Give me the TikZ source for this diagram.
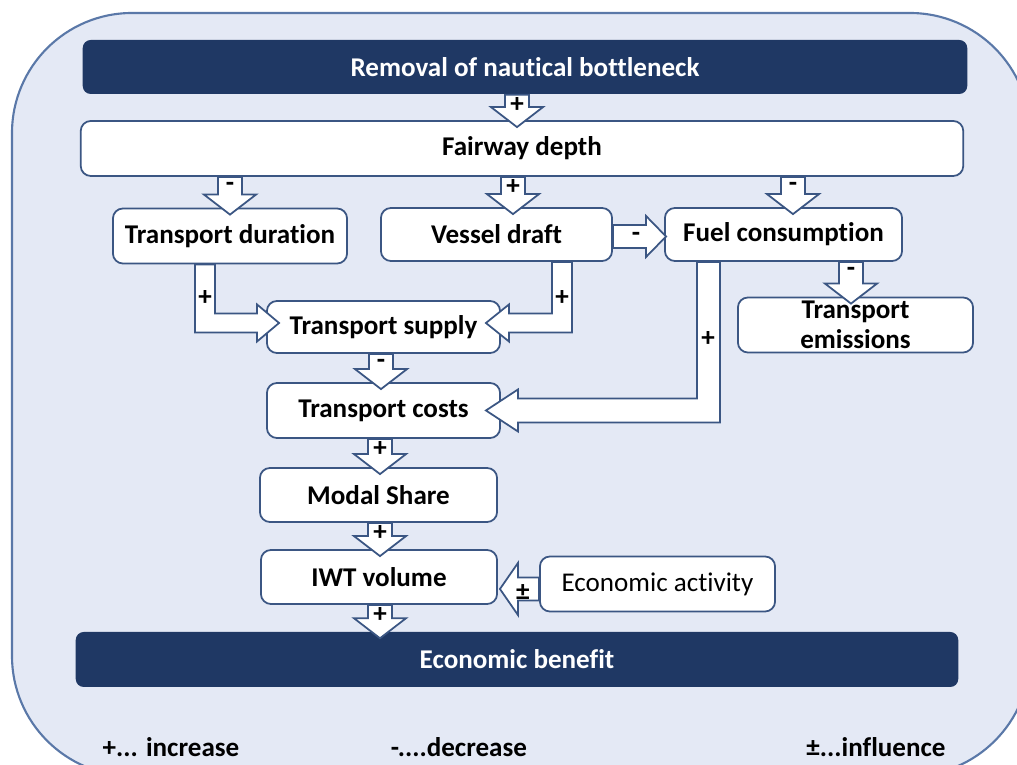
\documentclass[tikz,border=0pt]{standalone}
\usepackage{fontspec}
\setmainfont{Carlito}[Ligatures={NoCommon,NoRequired,NoContextual}, Contextuals=NoAlternate]
\usetikzlibrary{calc}

\definecolor{panelfill}{HTML}{E4E9F5}
\definecolor{panelline}{HTML}{5A78A8}
\definecolor{navy}{HTML}{1F3864}
\definecolor{boxline}{HTML}{3B5683}

\newdimen\px
\px=0.01cm
\newcommand{\figfont}{\fontsize{7.7}{8.6}\selectfont}

\tikzset{
  panel/.style={draw=panelline, fill=panelfill, rounded corners=1.2cm, line width=0.6pt},
  box/.style={draw=boxline, fill=white, rounded corners=1mm, line width=0.5pt,
    font=\figfont\bfseries, align=center, inner sep=1pt},
  plainbox/.style={box, font=\figfont},
  darkbox/.style={fill=navy, rounded corners=0.8mm, text=white, font=\figfont\bfseries},
  blk/.style={draw=boxline, fill=white, line width=0.5pt},
  sign/.style={font=\figfont\bfseries, inner sep=0pt},
  legend/.style={font=\figfont\bfseries, inner sep=0pt}
}

% fat arrow pointing down, from the bottom of #1 into the top of #2, at x=#3 (px)
\newcommand{\downblk}[4]{%
  \draw[blk] let \p1=(#1.south), \p2=(#2.north) in
    ({(#3-12)*\px},\y1) -- ({(#3-12)*\px},{\y2+13*\px})
    -- ({(#3-26)*\px},{\y2+13*\px}) -- ({#3*\px},{\y2-7*\px})
    -- ({(#3+26)*\px},{\y2+13*\px}) -- ({(#3+12)*\px},{\y2+13*\px})
    -- ({(#3+12)*\px},\y1) -- cycle
    node[sign] at ({#3*\px},{\y1-10*\px}) {#4};}

\begin{document}
\begin{tikzpicture}[x=0.01cm, y=-0.01cm]
\useasboundingbox (0,0) rectangle (1017,765);
\clip (0,0) rectangle (1017,765);

% Background panel
\draw[panel] (12,13) rectangle (1030,776);

% Nodes
\node[darkbox, minimum width=8.84cm, minimum height=0.54cm] (removal) at (525,67) {Removal of nautical bottleneck};
\node[box, minimum width=8.82cm, minimum height=0.55cm] (fairway) at (522,148.5) {Fairway depth};
\node[box, minimum width=2.34cm, minimum height=0.55cm] (duration) at (230,236) {Transport duration};
\node[box, minimum width=2.31cm, minimum height=0.53cm] (draft) at (496.5,234.5) {Vessel draft};
\node[box, minimum width=2.37cm, minimum height=0.53cm] (fuel) at (783.5,234.5) {Fuel consumption};
\node[box, minimum width=2.33cm, minimum height=0.52cm] (supply) at (383.5,327) {Transport supply};
\node[box, minimum width=2.35cm, minimum height=0.54cm] (emissions) at (855.5,325) {Transport\\emissions};
\node[box, minimum width=2.33cm, minimum height=0.55cm] (costs) at (383.5,410.5) {Transport costs};
\node[box, minimum width=2.37cm, minimum height=0.54cm] (modal) at (378.5,495) {Modal Share};
\node[box, minimum width=2.36cm, minimum height=0.54cm] (iwt) at (379,577) {IWT volume};
\node[plainbox, minimum width=2.35cm, minimum height=0.55cm] (activity) at (657.5,584) {Economic activity};
\node[darkbox, minimum width=8.82cm, minimum height=0.55cm] (benefit) at (517,659.5) {Economic benefit};

% Straight links
\downblk{removal}{fairway}{517}{+}
\downblk{fairway}{duration}{230}{-}
\downblk{fairway}{draft}{513}{+}
\downblk{fairway}{fuel}{793}{-}
\downblk{fuel}{emissions}{851}{-}
\downblk{supply}{costs}{381}{-}
\downblk{costs}{modal}{380}{+}
\downblk{modal}{iwt}{380}{+}
\downblk{iwt}{benefit}{380}{+}

\draw[blk] let \p1=(draft.east), \p2=(fuel.west) in
  (\x1,{\y1+9.5*\px}) -- ({\x2-18*\px},{\y1+9.5*\px}) -- ({\x2-18*\px},{\y1+18.5*\px})
  -- ({\x2+2*\px},{\y1-2*\px}) -- ({\x2-18*\px},{\y1-22.5*\px}) -- ({\x2-18*\px},{\y1-13.5*\px})
  -- (\x1,{\y1-13.5*\px}) -- cycle
  node[sign] at ({\x1+23*\px},{\y1-2*\px}) {-};

\draw[blk] let \p1=(activity.west), \p2=(iwt.east) in
  (\x1,{\y1+6.5*\px}) -- ({\x2+20*\px},{\y1+6.5*\px}) -- ({\x2+20*\px},{\y1+21*\px})
  -- ({\x2+2*\px},{\y1-5*\px}) -- ({\x2+20*\px},{\y1-31*\px}) -- ({\x2+20*\px},{\y1-16.5*\px})
  -- (\x1,{\y1-16.5*\px}) -- cycle
  node[sign] at ({\x2+25*\px},{\y1-9*\px}) {±};

% Elbow links
\draw[blk] let \p1=(duration.south), \p2=(supply.west) in
  ({195*\px},\y1) -- ({195*\px},{\y2-5.5*\px}) -- ({\x2-9*\px},{\y2-5.5*\px})
  -- ({\x2-9*\px},{\y2-14.5*\px}) -- ({\x2+13*\px},{\y2+4*\px}) -- ({\x2-9*\px},{\y2+22.5*\px})
  -- ({\x2-9*\px},{\y2+13.5*\px}) -- ({215*\px},{\y2+13.5*\px}) -- ({215*\px},\y1) -- cycle
  node[sign] at ({205*\px},{\y1-34*\px}) {+};

\draw[blk] let \p1=(draft.south), \p2=(supply.east) in
  ({572*\px},\y1) -- ({572*\px},{\y2-5.5*\px}) -- ({\x2+8*\px},{\y2-5.5*\px})
  -- ({\x2+8*\px},{\y2-14.5*\px}) -- ({\x2-15*\px},{\y2+4*\px}) -- ({\x2+8*\px},{\y2+22.5*\px})
  -- ({\x2+8*\px},{\y2+13.5*\px}) -- ({552*\px},{\y2+13.5*\px}) -- ({552*\px},\y1) -- cycle
  node[sign] at ({562*\px},{\y1-36*\px}) {+};

\draw[blk] let \p1=(fuel.south), \p2=(costs.east) in
  ({720*\px},\y1) -- ({720*\px},{\y2-12*\px}) -- ({\x2+17*\px},{\y2-12*\px})
  -- ({\x2+17*\px},{\y2-21*\px}) -- ({\x2-15*\px},\y2) -- ({\x2+17*\px},{\y2+21*\px})
  -- ({\x2+17*\px},{\y2+12*\px}) -- ({697*\px},{\y2+12*\px}) -- ({697*\px},\y1) -- cycle
  node[sign] at ({708*\px},{\y1-77*\px}) {+};

% Legend
\node[legend] (incr) at (171,747) {+... increase};
\node[legend] (decr) at (459,747) {-....decrease};
\node[legend] (infl) at (876,747) {±...influence};
\end{tikzpicture}
\end{document}
